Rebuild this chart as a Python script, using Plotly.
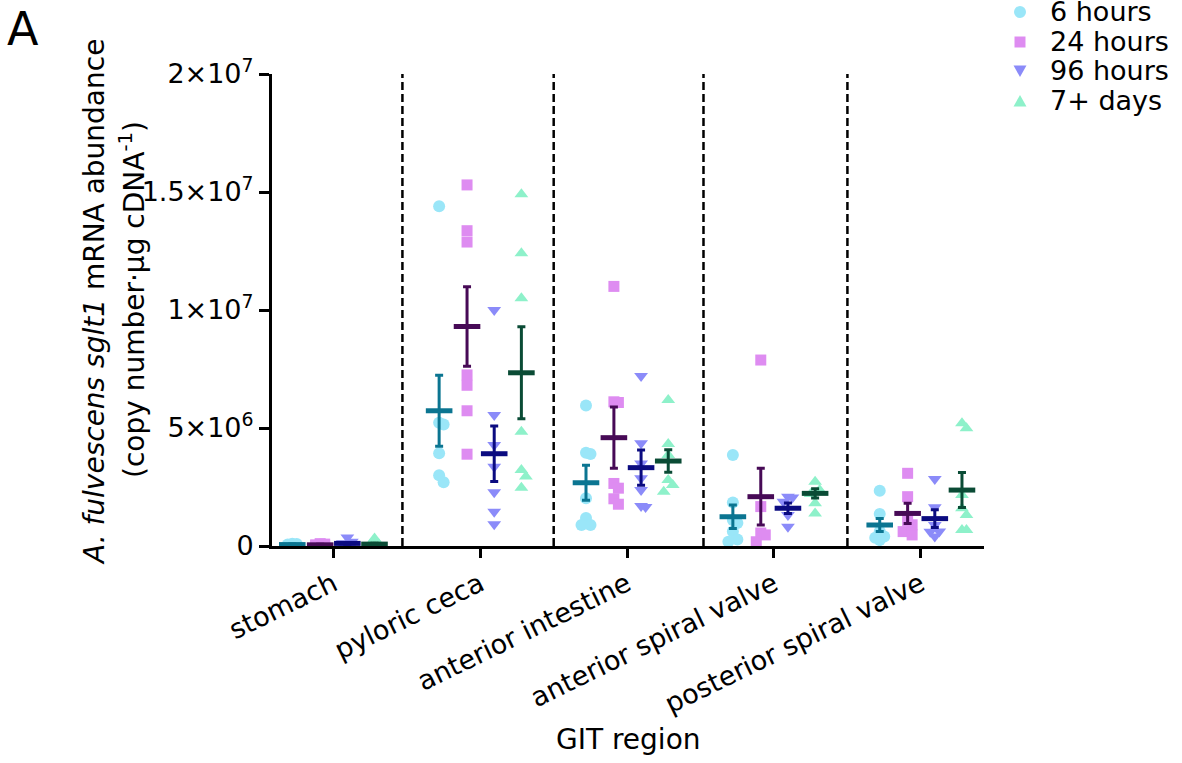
import plotly.graph_objects as go

# ---------------- data (values in copies) ----------------
regions = ["stomach", "pyloric ceca", "anterior intestine",
           "anterior spiral valve", "posterior spiral valve"]
groups = ["6 hours", "24 hours", "96 hours", "7+ days"]

E6 = 1e6
h6_points = [
    [0.03, 0.06, 0.09, 0.05, 0.02, 0.10],
    [14.4, 5.22, 5.15, 3.93, 3.0, 2.7],
    [5.95, 3.95, 3.9, 2.02, 1.19, 0.89, 0.89],
    [3.86, 1.84, 1.1, 0.97, 0.61, 0.28, 0.18],
    [2.34, 1.36, 0.61, 0.4, 0.25, 0.35],
]
h24_points = [
    [0.02, 0.05, 0.08, 0.03, 0.10, 0.04],
    [15.3, 13.36, 12.88, 7.25, 6.81, 5.73, 3.89],
    [11.0, 6.11, 6.08, 2.65, 2.45, 2.0, 1.77],
    [7.88, 1.67, 0.55, 0.47, 0.18],
    [3.08, 2.09, 1.07, 0.61, 0.47, 0.9],
]
h96_points = [
    [0.36, 0.18, 0.08, 0.03, 0.12, 0.05, 0.02],
    [10.0, 5.55, 4.28, 3.36, 2.28, 1.45, 0.92],
    [7.2, 4.35, 3.5, 2.87, 2.37, 1.7, 1.65],
    [2.09, 2.05, 1.88, 1.31, 0.82],
    [2.84, 1.64, 0.89, 0.61, 0.4, 0.6],
]
d7_points = [
    [0.32, 0.05, 0.02, 0.04, 0.03, 0.06],
    [14.9, 12.4, 10.5, 4.84, 3.22, 2.94, 2.47],
    [6.19, 4.32, 3.86, 2.8, 2.58, 2.3],
    [2.72, 2.37, 1.81, 1.38, 2.2],
    [5.2, 4.99, 2.16, 1.6, 1.31, 0.68, 0.68],
]
means = {
    "6 hours":  [0.06, 5.73, 2.68, 1.24, 0.89],
    "24 hours": [0.05, 9.30, 4.59, 2.09, 1.38],
    "96 hours": [0.11, 3.91, 3.32, 1.60, 1.16],
    "7+ days":  [0.08, 7.34, 3.60, 2.23, 2.37],
}
sems = {
    "6 hours":  [0.02, 1.50, 0.74, 0.50, 0.28],
    "24 hours": [0.02, 1.68, 1.30, 1.20, 0.43],
    "96 hours": [0.04, 1.18, 0.75, 0.22, 0.38],
    "7+ days":  [0.04, 1.95, 0.48, 0.20, 0.74],
}
points = {"6 hours": h6_points, "24 hours": h24_points,
          "96 hours": h96_points, "7+ days": d7_points}

y_ticks = [0, 5e6, 1e7, 1.5e7, 2e7]
y_ticktext = ["0", "5×10<sup>6</sup>", "1×10<sup>7</sup>",
              "1.5×10<sup>7</sup>", "2×10<sup>7</sup>"]

# ---------------- styles ----------------
pt_color = {"6 hours": "#9AE6F8", "24 hours": "#DE8CF1",
            "96 hours": "#8B8BF9", "7+ days": "#8EF1CA"}
bar_color = {"6 hours": "#0B7591", "24 hours": "#470A56",
             "96 hours": "#0B0B80", "7+ days": "#0A4B35"}
symbol = {"6 hours": "circle", "24 hours": "square",
          "96 hours": "triangle-down", "7+ days": "triangle-up"}
msize = {"6 hours": 12, "24 hours": 11, "96 hours": 12, "7+ days": 12}
group_off = [-0.28, -0.09, 0.095, 0.28]

FONT = "DejaVu Sans, Liberation Sans, Arial, sans-serif"
W, H = 1182, 763
ML, MR, MT, MB = 272, 198, 74, 217
PW, PH = W - ML - MR, H - MT - MB
xr = [-0.418, 4.43]
yr = [0, 2e7]
px_per_x = PW / (xr[1] - xr[0])
px_per_y = PH / (yr[1] - yr[0])


def px2paper(px, py):
    return (px - ML) / PW, (H - MB - py) / PH


def swarm(vals, d=11.0, step=4.5):
    order = sorted(range(len(vals)), key=lambda i: -vals[i])
    placed = []
    offs = [0.0] * len(vals)
    for i in order:
        y = vals[i] * E6 * px_per_y
        best, best_d = 0.0, -1.0
        for k in [0, 1, -1]:
            x = k * step
            md = min([((x - px) ** 2 + (y - py) ** 2) ** 0.5 for px, py in placed] or [1e9])
            if md >= d * 0.85:
                best = x
                break
            if md > best_d:
                best, best_d = x, md
        placed.append((best, y))
        offs[i] = best / px_per_x
    return offs


fig = go.Figure()

# scatter points
for gi, g in enumerate(groups):
    xs, ys = [], []
    for ri, vals in enumerate(points[g]):
        offs = swarm(vals)
        for v, o in zip(vals, offs):
            xs.append(ri + group_off[gi] + o)
            ys.append(v * E6)
    fig.add_trace(go.Scatter(
        x=xs, y=ys, mode="markers", name=g, showlegend=False,
        marker=dict(symbol=symbol[g], size=msize[g], color=pt_color[g],
                    line=dict(width=0)),
        hoverinfo="skip"))

# mean +/- SEM
for gi, g in enumerate(groups):
    xs = [ri + group_off[gi] for ri in range(len(regions))]
    fig.add_trace(go.Scatter(
        x=xs, y=[m * E6 for m in means[g]], mode="markers", showlegend=False,
        marker=dict(symbol="line-ew", size=19,
                    line=dict(width=5, color=bar_color[g])),
        error_y=dict(type="data", array=[s * E6 for s in sems[g]],
                     color=bar_color[g], thickness=3, width=4),
        hoverinfo="skip"))

# dashed separators between regions
for xv in [0.47, 1.5, 2.52, 3.5]:
    fig.add_shape(type="line", x0=xv, x1=xv, y0=0, y1=2e7, xref="x", yref="y",
                  line=dict(color="black", width=2.5, dash="8px,4px"), layer="below")

# ---------------- manual legend (keys + labels) ----------------
leg_key_x = 1020
leg_text_x = 1048
leg_rows = [12, 42, 71, 101]
for g, ry in zip(groups, leg_rows):
    r = 6
    if symbol[g] == "circle":
        x0, y0 = px2paper(leg_key_x - r, ry + r)
        x1, y1 = px2paper(leg_key_x + r, ry - r)
        fig.add_shape(type="circle", xref="paper", yref="paper",
                      x0=x0, y0=y0, x1=x1, y1=y1,
                      fillcolor=pt_color[g], line=dict(width=0))
    elif symbol[g] == "square":
        s = 5.5
        x0, y0 = px2paper(leg_key_x - s, ry + s)
        x1, y1 = px2paper(leg_key_x + s, ry - s)
        fig.add_shape(type="rect", xref="paper", yref="paper",
                      x0=x0, y0=y0, x1=x1, y1=y1,
                      fillcolor=pt_color[g], line=dict(width=0))
    else:
        if symbol[g] == "triangle-down":
            pts = [(leg_key_x - 6.5, ry - 5.5), (leg_key_x + 6.5, ry - 5.5), (leg_key_x, ry + 6)]
        else:
            pts = [(leg_key_x - 6.5, ry + 5.5), (leg_key_x + 6.5, ry + 5.5), (leg_key_x, ry - 6)]
        pp = [px2paper(a, b) for a, b in pts]
        path = "M {} {} L {} {} L {} {} Z".format(pp[0][0], pp[0][1], pp[1][0],
                                                   pp[1][1], pp[2][0], pp[2][1])
        fig.add_shape(type="path", xref="paper", yref="paper", path=path,
                      fillcolor=pt_color[g], line=dict(width=0))
    tx, ty = px2paper(leg_text_x, ry)
    fig.add_annotation(text=g, x=tx, y=ty, xref="paper", yref="paper",
                       xanchor="left", yanchor="middle", showarrow=False,
                       font=dict(size=27, color="black", family=FONT))

# panel letter
ax_, ay_ = px2paper(5, 0)
fig.add_annotation(text="A", x=ax_, y=ay_, xref="paper", yref="paper",
                   xanchor="left", yanchor="top", showarrow=False,
                   font=dict(size=46, color="black", family=FONT))

# y-axis title (two lines)
t1x, t1y = px2paper(94, 302)
t2x, t2y = px2paper(132, 300)
fig.add_annotation(text="<i>A. fulvescens sglt1</i> mRNA abundance",
                   x=t1x, y=t1y, xref="paper", yref="paper", textangle=-90,
                   xanchor="center", yanchor="middle", showarrow=False,
                   font=dict(size=28, color="black", family=FONT))
fig.add_annotation(text="(copy number·µg cDNA<sup>-1</sup>)",
                   x=t2x, y=t2y, xref="paper", yref="paper", textangle=-90,
                   xanchor="center", yanchor="middle", showarrow=False,
                   font=dict(size=28, color="black", family=FONT))

# x-axis title
gx, gy = px2paper(628, 739)
fig.add_annotation(text="GIT region", x=gx, y=gy, xref="paper", yref="paper",
                   xanchor="center", yanchor="middle", showarrow=False,
                   font=dict(size=28, color="black", family=FONT))

fig.update_layout(
    width=W, height=H,
    margin=dict(l=ML, r=MR, t=MT, b=MB, autoexpand=False),
    plot_bgcolor="white", paper_bgcolor="white",
    font=dict(family=FONT, size=27, color="black"),
    xaxis=dict(range=xr, tickmode="array", tickvals=list(range(len(regions))),
               ticktext=regions, tickangle=-26, showline=True, linewidth=3,
               linecolor="black", ticks="outside", ticklen=9, tickwidth=3,
               tickcolor="black", showgrid=False, zeroline=False,
               tickfont=dict(size=27, family=FONT, color="black")),
    yaxis=dict(range=yr, tickmode="array", tickvals=y_ticks, ticktext=y_ticktext,
               showline=True, linewidth=3, linecolor="black", ticks="outside",
               ticklen=10, tickwidth=3, tickcolor="black", showgrid=False,
               zeroline=False, tickfont=dict(size=27, family=FONT, color="black")),
    showlegend=False,
)

fig.write_html("out.html")
